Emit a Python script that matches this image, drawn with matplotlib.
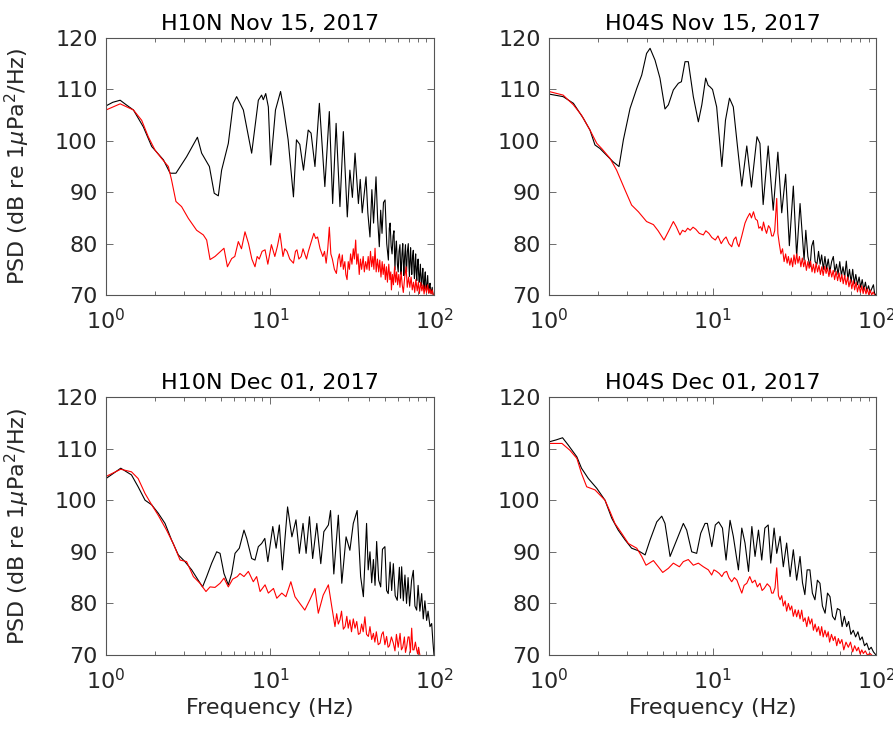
import numpy as np
import matplotlib
matplotlib.use('Agg')
import matplotlib.pyplot as plt
from matplotlib.ticker import LogLocator, NullFormatter

plt.rcParams['font.family'] = ['DejaVu Sans']
plt.rcParams['mathtext.fontset'] = 'dejavusans'

# (frequency Hz, PSD dB) pairs, black = event, red = background
h10n_nov15_k = [
    (1.00, 106.8), (1.10, 107.5), (1.22, 107.9), (1.33, 107.0), (1.47, 106.0), (1.69, 102.7),
    (1.90, 98.9), (2.24, 96.3), (2.46, 93.7), (2.67, 93.7), (3.10, 96.9), (3.61, 100.7),
    (3.83, 97.6), (4.27, 95.0), (4.57, 89.8), (4.84, 89.3), (5.07, 94.3), (5.57, 99.5),
    (5.97, 107.3), (6.26, 108.6), (6.88, 106.0), (7.73, 97.6), (8.49, 107.9), (8.89, 108.9),
    (9.10, 108.0), (9.42, 109.2), (9.77, 106.6), (10.1, 95.3), (10.8, 106.0), (11.6, 109.6),
    (12.1, 106.3), (12.9, 100.2), (13.9, 89.1), (14.5, 100.2), (15.2, 99.3), (16.0, 94.3),
    (17.1, 102.1), (17.8, 101.5), (18.8, 95.0), (20.0, 107.3), (21.6, 91.1), (23.0, 105.7),
    (24.1, 87.8), (25.3, 103.4), (26.7, 87.2), (28.0, 101.8), (29.6, 85.2), (30.7, 94.3),
    (31.8, 89.0), (33.0, 97.6), (34.6, 87.8), (35.5, 92.5), (36.5, 86.0), (38.5, 93.0),
    (39.5, 86.0), (40.7, 81.3), (41.8, 90.5), (42.8, 84.0), (44.3, 93.0), (45.3, 85.0),
    (46.4, 79.4), (47.3, 86.5), (48.2, 82.0), (49.2, 88.0), (50.3, 88.5), (51.5, 80.0),
    (52.7, 76.8), (53.4, 83.0), (54.0, 84.0), (54.8, 79.5), (55.5, 78.0), (56.3, 81.5),
    (57.0, 82.5), (57.8, 74.9), (58.4, 79.0), (59.0, 80.5), (59.8, 76.0), (60.5, 74.5),
    (61.2, 78.5), (62.0, 79.8), (62.5, 76.0), (63.0, 74.0), (63.8, 78.0), (64.5, 80.0),
    (65.0, 76.5), (65.5, 73.8), (66.2, 77.5), (67.0, 79.8), (67.5, 76.0), (68.0, 74.5),
    (68.8, 78.5), (69.7, 80.0), (70.2, 76.5), (70.8, 73.6), (71.4, 77.0), (72.0, 79.2),
    (72.6, 76.0), (73.2, 74.0), (74.0, 77.5), (74.8, 78.7), (75.4, 75.0), (76.0, 73.2),
    (76.7, 76.5), (77.3, 78.0), (77.9, 74.5), (78.5, 72.8), (79.2, 75.5), (80.0, 77.0),
    (80.6, 74.0), (81.3, 72.5), (82.0, 74.5), (82.6, 76.0), (83.3, 73.0), (84.0, 71.8),
    (84.8, 74.0), (85.5, 75.2), (86.2, 72.5), (87.0, 71.2), (87.8, 73.5), (88.5, 74.5),
    (89.2, 72.0), (90.0, 70.8), (90.8, 72.5), (91.5, 73.8), (92.2, 71.5), (93.0, 70.5),
    (93.8, 71.8), (94.6, 72.3), (95.3, 71.0), (96.0, 70.3), (96.8, 71.0), (97.5, 71.5),
    (98.2, 70.5), (99.0, 70.0),
]
h10n_nov15_r = [
    (1.00, 106.0), (1.22, 107.2), (1.47, 106.0), (1.65, 104.0), (1.81, 100.8), (1.99, 98.2),
    (2.18, 96.6), (2.40, 95.0), (2.51, 92.4), (2.67, 88.2), (2.89, 87.2), (3.18, 84.9),
    (3.57, 82.6), (3.92, 81.7), (4.11, 80.7), (4.31, 76.9), (4.62, 77.5), (4.96, 78.4),
    (5.24, 79.1), (5.50, 75.5), (5.84, 77.1), (6.10, 77.5), (6.41, 80.4), (6.70, 79.0),
    (7.04, 82.3), (7.40, 80.0), (7.75, 77.0), (8.10, 75.5), (8.35, 77.5), (8.60, 77.0),
    (8.95, 78.5), (9.33, 78.8), (9.70, 76.0), (10.2, 79.8), (10.7, 77.5), (11.1, 79.5),
    (11.5, 82.0), (12.0, 77.5), (12.3, 79.0), (12.7, 78.5), (13.2, 77.0), (13.9, 76.2),
    (14.3, 78.5), (14.6, 78.8), (15.0, 77.0), (15.5, 77.5), (15.9, 79.0), (16.3, 78.0),
    (16.7, 77.0), (17.1, 78.4), (17.7, 80.0), (18.5, 82.0), (19.0, 81.0), (19.5, 81.3),
    (20.2, 79.0), (21.0, 77.5), (21.5, 78.5), (22.0, 76.2), (22.5, 79.0), (23.0, 83.2),
    (23.5, 78.0), (24.0, 77.0), (24.7, 75.0), (25.4, 74.2), (26.0, 77.0), (26.5, 78.0),
    (27.0, 75.5), (27.6, 77.8), (28.0, 75.0), (28.6, 76.5), (29.0, 74.0), (29.5, 73.0),
    (30.0, 76.5), (30.5, 75.0), (31.0, 78.0), (31.6, 76.0), (32.2, 79.0), (32.7, 77.0),
    (33.3, 80.7), (33.8, 76.0), (34.4, 78.0), (35.0, 74.0), (35.6, 77.0), (36.2, 75.0),
    (37.0, 77.5), (37.6, 74.5), (38.3, 76.5), (39.0, 75.0), (39.7, 77.5), (40.3, 74.8),
    (41.0, 78.5), (41.7, 75.5), (42.4, 77.5), (43.0, 75.0), (43.7, 79.1), (44.4, 74.5),
    (45.2, 77.0), (46.0, 74.5), (46.7, 76.8), (47.5, 73.5), (48.3, 76.5), (49.0, 74.0),
    (49.8, 76.0), (50.5, 73.0), (51.3, 75.5), (52.0, 72.5), (53.0, 76.0), (53.8, 73.0),
    (54.5, 74.5), (55.0, 71.0), (55.8, 74.0), (56.6, 72.0), (57.5, 75.5), (58.3, 72.5),
    (59.2, 74.5), (60.0, 72.0), (61.0, 74.0), (62.0, 71.5), (63.0, 74.5), (64.0, 72.0),
    (65.0, 70.5), (66.3, 73.5), (67.6, 75.5), (68.7, 71.5), (70.0, 73.5), (71.2, 71.5),
    (72.5, 73.5), (73.7, 71.0), (75.0, 72.5), (76.3, 70.5), (77.5, 73.0), (79.0, 70.8),
    (80.3, 72.5), (81.5, 70.3), (83.0, 72.5), (84.3, 70.8), (85.7, 72.0), (87.0, 70.2),
    (88.5, 71.8), (90.0, 70.5), (91.5, 72.0), (93.0, 70.3), (94.5, 71.2), (96.0, 70.2),
    (97.5, 71.0), (99.0, 70.0),
]

h04s_nov15_k = [
    (1.00, 109.1), (1.22, 108.6), (1.41, 107.3), (1.62, 104.4), (1.78, 102.1), (1.91, 99.2),
    (2.05, 98.5), (2.25, 97.2), (2.47, 95.9), (2.68, 95.0), (2.85, 100.2), (3.13, 106.3),
    (3.44, 110.2), (3.69, 112.8), (3.95, 117.0), (4.15, 118.0), (4.45, 115.7), (4.77, 112.2),
    (5.12, 106.2), (5.37, 107.0), (5.76, 109.9), (6.18, 111.2), (6.45, 111.5), (6.79, 115.4),
    (7.11, 115.4), (7.63, 108.6), (8.19, 103.7), (8.60, 107.0), (9.08, 112.2), (9.40, 110.8),
    (9.66, 110.5), (10.0, 110.0), (10.6, 106.6), (11.4, 95.0), (12.0, 104.0), (12.7, 108.3),
    (13.4, 106.6), (14.2, 99.0), (15.1, 91.2), (16.2, 99.0), (17.3, 91.0), (18.7, 100.8),
    (19.5, 99.5), (20.4, 87.6), (21.9, 99.0), (23.5, 86.5), (25.1, 97.8), (26.5, 86.0),
    (28.0, 93.5), (29.5, 79.6), (31.2, 91.2), (32.7, 77.5), (34.3, 87.8), (36.3, 76.8),
    (37.2, 82.6), (38.3, 77.5), (39.5, 75.5), (40.4, 79.5), (41.4, 80.6), (42.4, 76.5),
    (43.5, 76.0), (44.5, 78.5), (45.5, 76.0), (46.5, 77.8), (47.6, 75.0), (48.7, 77.5),
    (49.8, 75.0), (51.0, 77.0), (52.2, 74.5), (53.5, 76.5), (54.8, 77.5), (56.0, 74.5),
    (57.3, 76.0), (58.6, 74.0), (60.0, 76.5), (61.4, 73.8), (62.8, 75.5), (64.3, 73.5),
    (65.8, 76.6), (67.3, 73.0), (68.8, 75.0), (70.4, 72.5), (72.0, 75.0), (73.6, 72.2),
    (75.2, 74.0), (77.0, 72.0), (78.8, 73.5), (80.5, 71.5), (82.3, 73.0), (84.2, 71.0),
    (86.1, 72.5), (88.0, 70.8), (90.0, 71.8), (92.0, 70.5), (94.0, 71.2), (96.4, 72.0),
    (98.0, 70.3), (100.0, 70.0),
]
h04s_nov15_r = [
    (1.00, 109.6), (1.22, 108.9), (1.41, 107.0), (1.58, 105.0), (1.78, 102.1), (1.96, 99.5),
    (2.10, 98.5), (2.36, 96.6), (2.59, 94.3), (2.92, 90.4), (3.20, 87.5), (3.52, 86.2),
    (3.95, 84.3), (4.35, 83.7), (4.65, 82.5), (5.05, 80.7), (5.40, 82.5), (5.76, 84.3),
    (6.00, 83.3), (6.32, 81.7), (6.55, 82.6), (6.80, 82.3), (7.05, 83.0), (7.30, 82.6),
    (7.60, 83.2), (7.90, 82.8), (8.30, 82.0), (8.79, 81.7), (9.10, 82.5), (9.50, 82.0),
    (9.90, 81.2), (10.4, 80.7), (10.8, 81.5), (11.3, 80.0), (11.7, 80.8), (12.1, 81.3),
    (12.6, 80.0), (13.1, 79.4), (13.5, 80.8), (13.9, 81.3), (14.2, 80.0), (14.5, 79.4),
    (15.1, 81.5), (15.8, 84.0), (16.3, 85.0), (16.9, 85.9), (17.3, 85.0), (17.8, 86.2),
    (18.3, 84.8), (18.8, 84.5), (19.2, 83.0), (19.7, 83.3), (20.1, 82.5), (20.5, 84.2),
    (21.0, 82.8), (21.4, 82.0), (22.0, 83.5), (22.5, 83.0), (23.0, 81.5), (23.5, 81.5),
    (24.0, 82.5), (24.7, 88.8), (25.1, 82.0), (25.6, 80.0), (26.2, 78.0), (26.8, 79.0),
    (27.4, 76.5), (28.0, 78.0), (28.6, 76.2), (29.1, 77.5), (29.7, 75.8), (30.3, 77.2),
    (30.9, 75.5), (31.5, 77.8), (32.1, 76.0), (32.7, 78.0), (33.3, 76.2), (34.0, 77.5),
    (34.7, 75.5), (35.4, 77.2), (36.1, 75.5), (36.8, 76.8), (37.5, 74.8), (38.3, 76.5),
    (39.0, 75.2), (39.8, 76.6), (40.6, 74.5), (41.4, 76.0), (42.2, 74.3), (43.0, 76.2),
    (43.9, 74.5), (44.8, 75.8), (45.7, 74.0), (46.6, 75.5), (47.5, 73.8), (48.5, 75.6),
    (49.5, 74.2), (50.5, 75.3), (51.5, 73.6), (52.5, 75.0), (53.6, 73.5), (54.7, 74.8),
    (55.8, 73.0), (57.0, 74.6), (58.2, 72.8), (59.4, 74.3), (60.6, 72.6), (61.8, 74.0),
    (63.0, 72.2), (64.3, 73.8), (65.6, 72.0), (67.0, 73.5), (68.3, 71.6), (69.7, 73.0),
    (71.1, 71.2), (72.5, 72.8), (74.0, 71.0), (75.5, 72.5), (77.0, 70.6), (78.6, 72.0),
    (80.2, 70.5), (81.8, 71.8), (83.4, 70.3), (85.0, 71.5), (86.8, 70.2), (88.5, 71.2),
    (90.3, 70.0), (92.0, 71.0), (94.0, 70.0), (96.0, 70.6), (98.0, 70.0),
]

h10n_dec01_k = [
    (1.00, 104.2), (1.11, 105.2), (1.23, 106.2), (1.43, 104.9), (1.57, 102.6), (1.73, 100.0),
    (1.90, 99.1), (2.08, 97.5), (2.29, 95.5), (2.51, 92.3), (2.76, 89.4), (3.03, 88.1),
    (3.33, 86.5), (3.65, 84.5), (3.88, 83.2), (4.11, 85.2), (4.41, 87.8), (4.73, 90.0),
    (4.96, 89.7), (5.24, 85.8), (5.57, 83.6), (5.84, 85.8), (6.12, 89.7), (6.50, 90.7),
    (6.94, 94.2), (7.21, 92.6), (7.73, 88.7), (8.10, 88.4), (8.49, 91.0), (8.89, 91.6),
    (9.30, 92.6), (9.70, 88.1), (10.4, 94.9), (10.9, 90.7), (11.4, 95.2), (11.9, 86.5),
    (12.8, 98.7), (13.6, 92.9), (14.4, 96.2), (15.1, 89.7), (15.9, 95.5), (16.6, 89.7),
    (17.4, 96.8), (18.2, 88.7), (19.3, 95.5), (20.4, 87.7), (21.3, 93.9), (22.7, 95.2),
    (23.4, 98.0), (24.5, 85.7), (26.1, 97.1), (27.4, 83.9), (29.1, 92.9), (30.7, 90.3),
    (32.2, 95.5), (34.0, 98.0), (35.7, 85.2), (37.1, 81.3), (38.8, 95.5), (39.7, 86.5),
    (40.7, 90.0), (41.7, 84.0), (42.7, 88.5), (43.7, 83.5), (44.7, 92.0), (46.0, 84.5),
    (47.3, 83.2), (48.5, 90.5), (50.2, 91.0), (51.4, 82.5), (52.6, 81.9), (54.0, 88.0),
    (55.2, 82.5), (56.5, 87.7), (58.0, 81.5), (59.7, 80.6), (61.5, 87.0), (62.5, 81.0),
    (63.5, 87.1), (65.0, 80.5), (66.5, 85.5), (68.0, 80.0), (69.5, 85.0), (71.0, 79.5),
    (73.0, 84.5), (74.8, 86.4), (76.5, 79.5), (78.4, 78.7), (80.0, 83.5), (82.0, 78.5),
    (84.1, 81.9), (86.0, 77.0), (88.0, 80.5), (90.2, 76.7), (92.0, 78.5), (94.5, 75.5),
    (96.8, 76.1), (98.5, 72.5), (100.0, 70.0),
]
h10n_dec01_r = [
    (1.00, 104.6), (1.23, 106.0), (1.43, 105.5), (1.57, 104.2), (1.73, 101.3), (1.90, 99.1),
    (2.08, 97.1), (2.34, 94.2), (2.57, 91.6), (2.83, 88.4), (3.10, 88.1), (3.41, 85.2),
    (3.74, 83.9), (4.07, 82.3), (4.31, 83.2), (4.62, 83.1), (4.96, 83.9), (5.24, 84.9),
    (5.57, 83.2), (5.92, 84.7), (6.32, 85.2), (6.56, 85.8), (6.94, 85.2), (7.38, 86.2),
    (7.91, 84.2), (8.29, 85.2), (8.70, 82.3), (9.33, 83.6), (9.77, 82.0), (10.5, 82.9),
    (11.0, 81.0), (11.8, 82.0), (12.5, 81.3), (13.4, 84.2), (14.2, 81.3), (15.2, 80.0),
    (16.3, 78.7), (17.5, 80.7), (18.8, 82.9), (19.7, 78.1), (21.1, 81.6), (22.7, 83.6),
    (23.8, 79.4), (24.9, 75.5), (25.5, 78.0), (26.1, 76.0), (26.7, 76.8), (27.3, 78.5),
    (28.0, 75.0), (28.7, 75.5), (29.4, 77.5), (30.0, 75.2), (30.7, 76.8), (31.4, 74.5),
    (32.2, 77.0), (33.0, 75.2), (33.8, 76.5), (34.6, 74.0), (35.4, 74.2), (36.2, 76.0),
    (37.0, 74.5), (37.9, 77.4), (38.8, 74.0), (39.8, 73.6), (40.7, 75.5), (41.7, 73.0),
    (42.7, 74.2), (43.6, 72.5), (44.5, 74.5), (45.7, 72.0), (46.9, 72.3), (48.0, 74.0),
    (49.0, 74.5), (50.2, 72.0), (51.4, 73.6), (52.5, 71.5), (53.5, 71.8), (55.0, 73.5),
    (56.5, 72.3), (57.8, 70.8), (59.0, 74.0), (60.5, 71.5), (62.1, 74.2), (63.3, 71.0),
    (64.5, 71.5), (66.0, 73.5), (67.0, 70.5), (68.1, 71.6), (69.5, 73.5), (70.5, 73.5),
    (71.8, 70.5), (73.1, 75.2), (74.3, 71.0), (75.5, 71.0), (77.0, 72.5), (78.4, 71.0),
    (79.5, 70.2), (80.5, 71.5), (82.0, 70.0),
]

h04s_dec01_k = [
    (1.00, 111.3), (1.11, 111.7), (1.21, 112.1), (1.31, 110.7), (1.48, 108.4), (1.58, 106.2),
    (1.74, 104.2), (1.96, 102.3), (2.20, 100.0), (2.42, 96.5), (2.65, 94.2), (2.92, 92.3),
    (3.20, 90.7), (3.52, 90.2), (3.87, 89.4), (4.15, 92.3), (4.56, 95.8), (4.89, 96.9),
    (5.12, 95.5), (5.50, 89.1), (6.04, 92.3), (6.63, 95.5), (6.95, 94.2), (7.46, 90.0),
    (8.00, 89.7), (8.47, 93.6), (9.00, 95.5), (9.30, 95.5), (9.90, 91.0), (10.4, 95.2),
    (10.9, 95.8), (11.5, 94.6), (12.1, 88.4), (12.8, 96.1), (13.4, 93.0), (14.4, 86.5),
    (15.1, 94.6), (15.8, 91.7), (16.6, 86.2), (17.4, 94.9), (18.2, 89.1), (19.1, 94.2),
    (20.0, 88.4), (20.9, 94.6), (21.9, 95.2), (22.7, 87.8), (23.8, 94.6), (24.7, 89.7),
    (25.9, 93.0), (27.1, 87.1), (28.4, 91.7), (29.8, 85.2), (31.2, 90.4), (32.7, 84.5),
    (34.3, 89.1), (35.5, 84.0), (36.7, 81.7), (37.9, 86.5), (39.4, 86.5), (40.8, 82.0),
    (42.3, 80.7), (43.8, 84.5), (45.4, 83.9), (47.0, 79.5), (48.8, 78.1), (50.5, 82.0),
    (52.3, 81.3), (54.2, 77.5), (56.1, 76.8), (58.0, 79.0), (60.2, 78.7), (62.0, 75.5),
    (64.0, 77.5), (66.1, 75.5), (68.0, 76.5), (70.2, 74.0), (72.6, 74.8), (75.0, 73.5),
    (77.5, 74.5), (79.8, 72.9), (82.3, 73.5), (85.0, 71.8), (87.7, 72.3), (90.5, 71.0),
    (93.4, 71.5), (96.4, 70.6), (100.0, 70.0),
]
h04s_dec01_r = [
    (1.00, 111.0), (1.20, 111.0), (1.34, 109.7), (1.48, 108.1), (1.58, 105.2), (1.70, 102.6),
    (1.91, 102.0), (2.20, 100.0), (2.36, 97.8), (2.53, 95.5), (2.78, 93.6), (3.06, 91.6),
    (3.44, 90.7), (3.69, 89.1), (3.92, 87.4), (4.35, 88.3), (4.66, 87.1), (4.96, 86.0),
    (5.37, 86.8), (5.76, 87.8), (6.27, 87.1), (6.63, 88.1), (7.11, 88.5), (7.63, 87.4),
    (8.19, 87.8), (8.79, 87.1), (9.43, 86.5), (9.88, 85.5), (10.2, 86.5), (10.6, 86.2),
    (11.0, 85.8), (11.4, 85.2), (11.8, 86.0), (12.2, 86.2), (12.6, 85.0), (13.1, 84.2),
    (13.6, 85.0), (14.1, 84.5), (14.6, 83.2), (15.1, 82.0), (15.6, 83.5), (16.2, 83.9),
    (16.9, 85.2), (17.5, 84.0), (18.2, 84.5), (18.8, 83.2), (19.5, 83.9), (20.1, 82.5),
    (20.7, 82.9), (21.6, 83.8), (22.5, 83.2), (23.0, 82.0), (23.5, 82.0), (24.1, 83.0),
    (24.7, 86.9), (25.3, 81.5), (25.9, 80.7), (26.5, 81.5), (27.1, 79.5), (27.8, 80.5),
    (28.4, 78.5), (29.1, 80.0), (29.8, 78.7), (30.5, 79.5), (31.2, 77.5), (32.0, 78.8),
    (32.7, 77.4), (33.5, 78.7), (34.3, 77.0), (35.1, 78.7), (35.9, 76.5), (36.8, 77.2),
    (37.7, 75.5), (38.6, 77.4), (39.5, 76.0), (40.5, 77.0), (41.4, 74.8), (42.4, 76.0),
    (43.4, 74.5), (44.5, 75.5), (45.5, 73.8), (46.5, 75.5), (47.5, 73.5), (48.7, 74.8),
    (49.9, 73.5), (51.0, 74.5), (52.0, 72.5), (53.4, 74.0), (54.8, 72.8), (56.1, 73.6),
    (57.5, 71.8), (58.8, 73.2), (60.2, 72.2), (61.8, 73.0), (63.5, 71.0), (65.5, 72.5),
    (67.7, 71.5), (69.8, 72.5), (72.0, 70.6), (74.0, 71.8), (76.2, 70.8), (78.0, 71.5),
    (80.0, 70.2), (81.8, 71.0), (83.6, 70.3), (86.0, 70.8), (88.5, 70.0), (91.9, 70.3),
    (94.0, 70.0),
]

titles = ['H10N Nov 15, 2017', 'H04S Nov 15, 2017', 'H10N Dec 01, 2017', 'H04S Dec 01, 2017']
black_series = [h10n_nov15_k, h04s_nov15_k, h10n_dec01_k, h04s_dec01_k]
red_series = [h10n_nov15_r, h04s_nov15_r, h10n_dec01_r, h04s_dec01_r]
y_ticks = [70, 80, 90, 100, 110, 120]

fs = 16
txt = '#262626'
axes_pos = [
    [0.1187, 0.5975, 0.3673, 0.3506],
    [0.6148, 0.5975, 0.3662, 0.3506],
    [0.1187, 0.1064, 0.3673, 0.3520],
    [0.6148, 0.1064, 0.3662, 0.3520],
]

fig = plt.figure(figsize=(8.93, 7.33), dpi=100)
for i in range(4):
    ax = fig.add_axes(axes_pos[i])
    k = np.array(black_series[i])
    r = np.array(red_series[i])
    ax.plot(k[:, 0], k[:, 1], color='black', lw=0.8)
    ax.plot(r[:, 0], r[:, 1], color='red', lw=0.8)
    ax.set_xscale('log')
    ax.set_xlim(1, 100)
    ax.set_ylim(70, 120)
    ax.set_yticks(y_ticks)
    ax.xaxis.set_minor_locator(LogLocator(base=10, subs=np.arange(2, 10)))
    ax.xaxis.set_minor_formatter(NullFormatter())
    ax.tick_params(which='both', direction='in', top=True, right=True, colors='#555555',
                   labelcolor=txt, labelsize=fs, width=0.6)
    ax.tick_params(which='major', length=5)
    ax.tick_params(which='minor', length=3)
    ax.tick_params(axis='y', pad=6)
    ax.tick_params(axis='x', pad=9)
    for s in ax.spines.values():
        s.set_color('#555555')
        s.set_linewidth(0.8)
    ax.set_title(titles[i], fontsize=fs, color='black', pad=6)
    if i % 2 == 0:
        ax.set_ylabel('PSD (dB re 1$\\mu$Pa$^2$/Hz)', fontsize=fs, color=txt)
        ax.yaxis.set_label_coords(-0.225, 0.5)
    if i >= 2:
        ax.set_xlabel('Frequency (Hz)', fontsize=fs, color=txt, labelpad=4)

fig.savefig('out.png', dpi=100)
